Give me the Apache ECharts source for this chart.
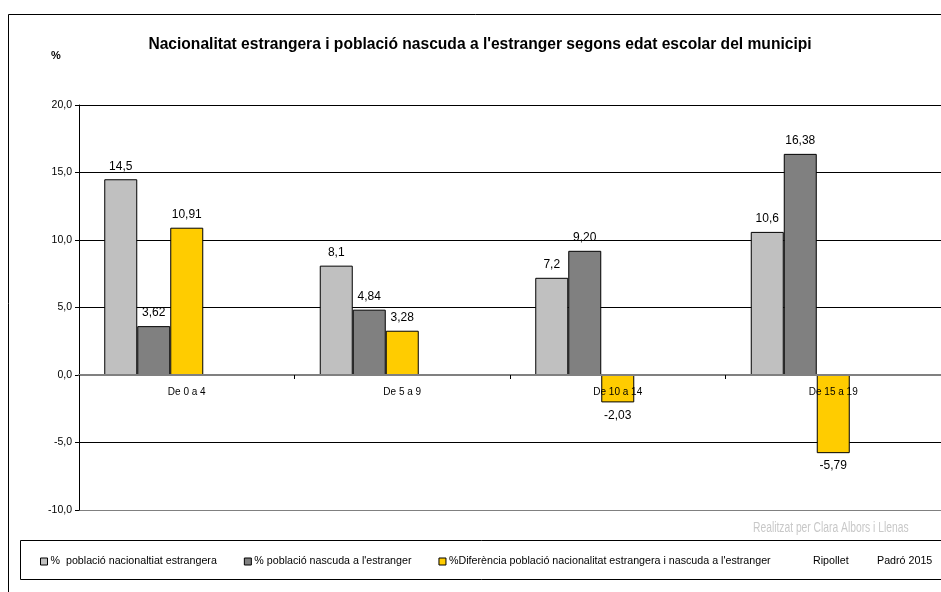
<!DOCTYPE html>
<html>
<head>
<meta charset="utf-8">
<script src="https://cdn.jsdelivr.net/npm/echarts@6/dist/echarts.min.js"></script>
<style>
  html, body { margin: 0; padding: 0; background: #fff; }
  #main { width: 941px; height: 592px; }
</style>
</head>
<body>
<div id="main"></div>
<script>
// dades
var categories = ['De 0 a 4', 'De 5 a 9', 'De 10 a 14', 'De 15 a 19']
var nacionalitat = [14.5, 8.1, 7.2, 10.6]
var nascuda = [3.62, 4.84, 9.20, 16.38]
var diferencia = [10.91, 3.28, -2.03, -5.79]
var seriesNames = [
  '%  població nacionaltiat estrangera',
  '% població nascuda a l\'estranger',
  '%Diferència població nacionalitat estrangera i nascuda a l\'estranger',
  'Ripollet',
  'Padró 2015'
]
var yTicks = [-10, 20, 5] // min, max, interval

function fmt(v, d) {
  return v.toFixed(d).replace('.', ',')
}

function barData(values, decimals) {
  return values.map(function(v) {
    return {
      value: v,
      label: {
        position: v < 0 ? 'bottom' : 'top',
        formatter: fmt(v, decimals)
      }
    }
  })
}

var labelStyle = {
  show: true,
  distance: 7,
  color: '#000',
  fontSize: 12,
  fontFamily: 'Liberation Sans, Arial, sans-serif'
}

var chart = echarts.init(document.getElementById('main'))
chart.setOption({
  animation: false,
  textStyle: { fontFamily: 'Liberation Sans, Arial, sans-serif' },
  title: {
    text: 'Nacionalitat estrangera i població nascuda a l\'estranger segons edat escolar del municipi',
    left: 475,
    textAlign: 'center',
    top: 32,
    textStyle: { fontSize: 15.6, fontWeight: 'bold', color: '#000' }
  },
  legend: [
    {
      data: seriesNames.slice(0, 3),
      left: 35,
      top: 551,
      itemWidth: 7,
      itemHeight: 7,
      itemGap: 27,
      icon: 'rect',
      itemStyle: { borderColor: '#000', borderWidth: 1 },
      textStyle: { fontSize: 10.7, color: '#000', padding: [0, 0, 0, -2] }
    },
    {
      data: [{ name: 'Ripollet', itemStyle: { opacity: 0 } }],
      left: 796,
      top: 551,
      itemWidth: 7,
      itemHeight: 7,
      textStyle: { fontSize: 10.7, color: '#000' }
    },
    {
      data: [{ name: 'Padró 2015', itemStyle: { opacity: 0 } }],
      left: 860,
      top: 551,
      itemWidth: 7,
      itemHeight: 7,
      textStyle: { fontSize: 10.7, color: '#000' }
    }
  ],
  grid: {
    left: 79,
    top: 105,
    width: 868,
    height: 405
  },
  xAxis: {
    type: 'category',
    data: categories,
    z: 10,
    axisLine: { onZero: true, lineStyle: { color: '#808080', width: 2 } },
    axisTick: { show: true, length: 4, lineStyle: { color: '#000' } },
    // labels sit just under the zero line
    axisLabel: { fontSize: 10, color: '#000', margin: -123 }
  },
  yAxis: {
    type: 'value',
    min: yTicks[0],
    max: yTicks[1],
    interval: yTicks[2],
    name: '%',
    nameGap: 44,
    nameTextStyle: { fontSize: 11, fontWeight: 'bold', color: '#000', padding: [0, 46, 0, 0] },
    axisLine: { show: true, lineStyle: { color: '#000', width: 1 } },
    axisTick: { show: true, length: 4, lineStyle: { color: '#000' } },
    axisLabel: {
      fontSize: 10.5,
      color: '#000',
      margin: 7,
      formatter: function(v) { return fmt(v, 1) }
    },
    splitLine: {
      lineStyle: {
        color: ['#808080', '#000', '#808080', '#000', '#000', '#000', '#000'],
        width: 1
      }
    }
  },
  series: [
    {
      name: seriesNames[0],
      type: 'bar',
      barWidth: 33,
      barGap: '0%',
      data: barData(nacionalitat, 1),
      itemStyle: { color: '#C0C0C0', borderColor: '#000', borderWidth: 1 },
      label: labelStyle
    },
    {
      name: seriesNames[1],
      type: 'bar',
      barWidth: 33,
      barGap: '0%',
      data: barData(nascuda, 2),
      itemStyle: { color: '#808080', borderColor: '#000', borderWidth: 1 },
      label: labelStyle
    },
    {
      name: seriesNames[2],
      type: 'bar',
      barWidth: 33,
      barGap: '0%',
      data: barData(diferencia, 2),
      itemStyle: { color: '#FFCC00', borderColor: '#000', borderWidth: 1 },
      label: labelStyle
    },
    {
      name: seriesNames[3],
      type: 'bar',
      barWidth: 33,
      barGap: '0%',
      data: [null, null, null, null],
      itemStyle: { color: '#fff' }
    },
    {
      name: seriesNames[4],
      type: 'bar',
      barWidth: 33,
      barGap: '0%',
      data: [null, null, null, null],
      itemStyle: { color: '#fff' }
    }
  ],
  graphic: [
    {
      type: 'rect',
      silent: true,
      z: -10,
      shape: { x: 8.5, y: 14.5, width: 1000, height: 700 },
      style: { fill: 'none', stroke: '#000', lineWidth: 1 }
    },
    {
      type: 'rect',
      silent: true,
      z: -10,
      shape: { x: 20.5, y: 540.5, width: 1000, height: 39 },
      style: { fill: 'none', stroke: '#000', lineWidth: 1 }
    },
    {
      type: 'text',
      silent: true,
      x: 753,
      y: 528,
      scaleX: 0.735,
      style: {
        text: 'Realitzat per Clara Albors i Llenas',
        fill: '#c8c8c8',
        fontSize: 14,
        verticalAlign: 'middle',
        fontFamily: 'Liberation Sans, Arial, sans-serif'
      }
    }
  ]
})
</script>
</body>
</html>
